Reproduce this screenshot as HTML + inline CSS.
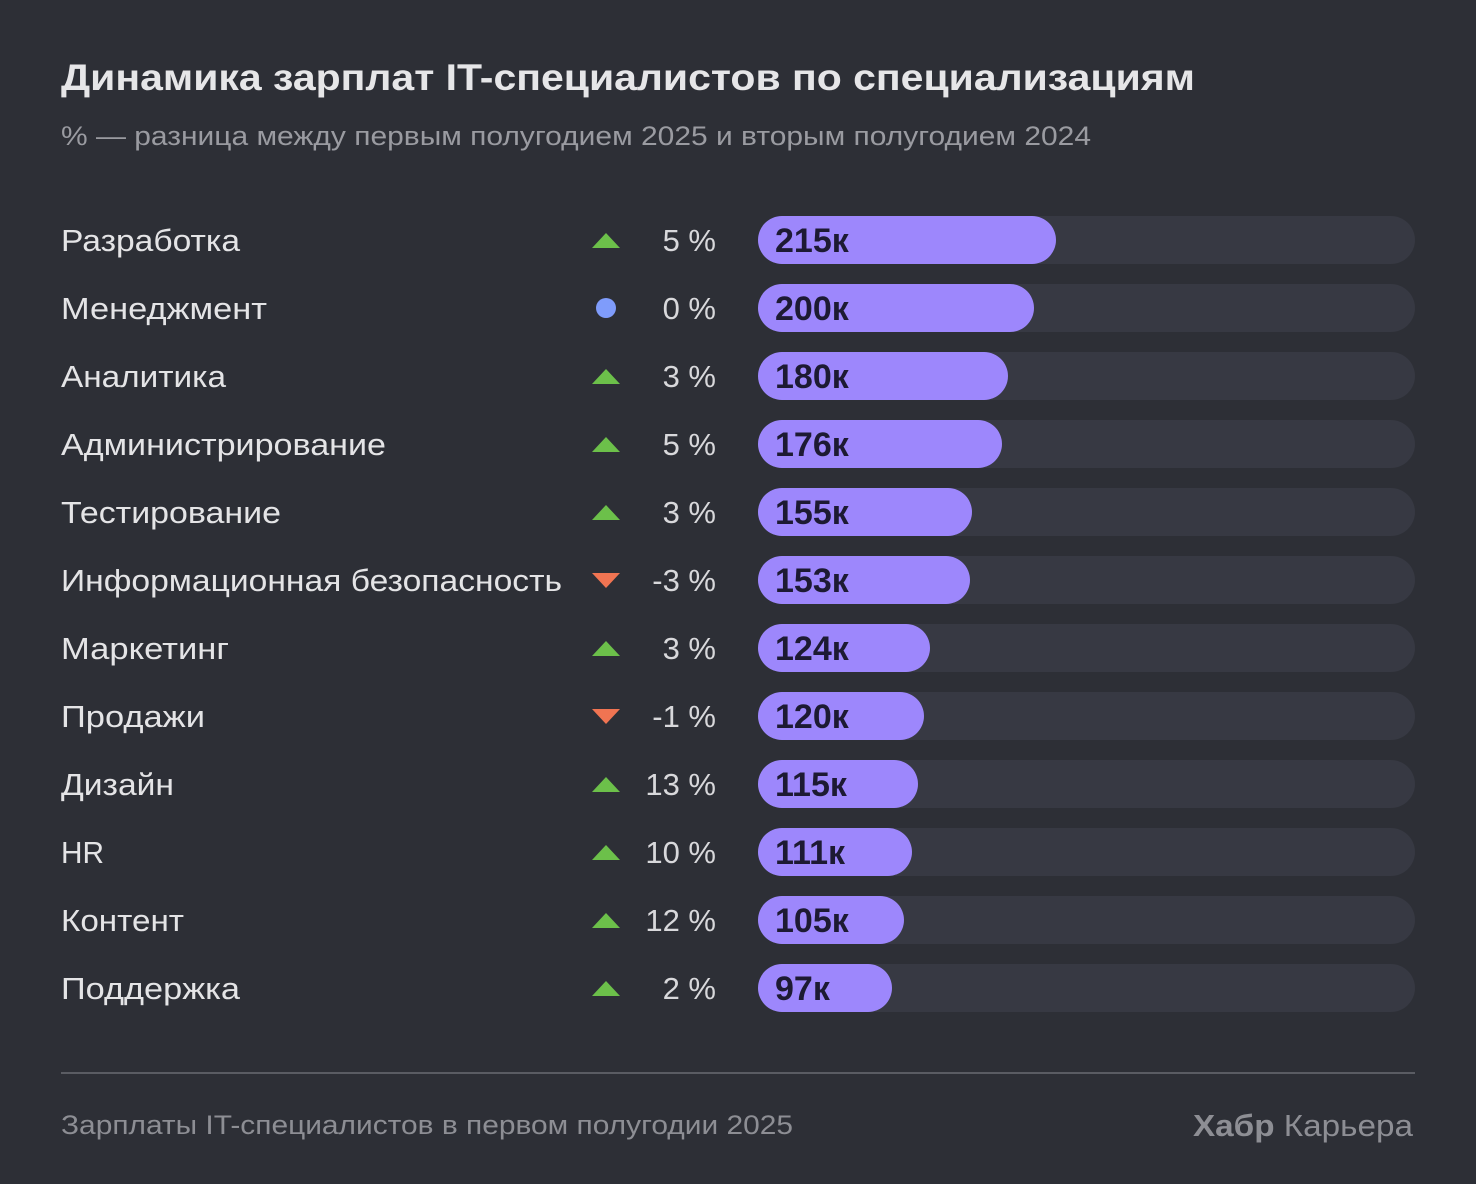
<!DOCTYPE html>
<html><head><meta charset="utf-8"><style>
html,body{margin:0;padding:0;background:#2d2f36;}
svg{display:block}
text{font-family:"Liberation Sans","DejaVu Sans",sans-serif;}
</style></head><body>
<svg width="1476" height="1184" viewBox="0 0 1476 1184" xmlns="http://www.w3.org/2000/svg">
<rect width="1476" height="1184" fill="#2d2f36"/>
<text x="61" y="90" font-size="37" font-weight="bold" fill="#e6e6e8" textLength="1134" lengthAdjust="spacingAndGlyphs">Динамика зарплат IT-специалистов по специализациям</text>
<text x="61" y="145" font-size="27" fill="#9a9ba1" textLength="1030" lengthAdjust="spacingAndGlyphs">% — разница между первым полугодием 2025 и вторым полугодием 2024</text>
<g id="rows"></g>
<line x1="61" y1="1073" x2="1415" y2="1073" stroke="#5a5c63" stroke-width="2"/>
<text x="61" y="1134" font-size="27" fill="#8d8e94" textLength="732" lengthAdjust="spacingAndGlyphs">Зарплаты IT-специалистов в первом полугодии 2025</text>
<text x="1193" y="1136" font-size="31" fill="#8d8e94" textLength="220" lengthAdjust="spacingAndGlyphs"><tspan font-weight="bold">Хабр</tspan> Карьера</text>
</svg>
<script>
var d=[["Разработка",5,215,1056,179],["Менеджмент",0,200,1034,206],["Аналитика",3,180,1008,165],["Администрирование",5,176,1002,325],["Тестирование",3,155,972,220],["Информационная безопасность",-3,153,970,501],["Маркетинг",3,124,930,168],["Продажи",-1,120,924,144],["Дизайн",13,115,918,113],["HR",10,111,912,43],["Контент",12,105,904,123],["Поддержка",2,97,892,179]];
var g=document.getElementById('rows'),s='';
d.forEach(function(r,i){var c=240+68*i;
s+='<text x="61" y="'+(c+11)+'" font-size="31" fill="#e4e4e6" textLength="'+r[4]+'" lengthAdjust="spacingAndGlyphs">'+r[0]+'</text>';
if(r[1]>0)s+='<polygon points="592,'+(c+8)+' 620,'+(c+8)+' 606,'+(c-7)+'" fill="#6cc04a"/>';
else if(r[1]<0)s+='<polygon points="592,'+(c-7)+' 620,'+(c-7)+' 606,'+(c+8)+'" fill="#f07452"/>';
else s+='<circle cx="606" cy="'+c+'" r="10" fill="#7f9cfb"/>';
s+='<text x="716" y="'+(c+11)+'" font-size="31" fill="#d8d8db" text-anchor="end">'+r[1]+' %</text>';
s+='<rect x="758" y="'+(c-24)+'" width="657" height="48" rx="24" fill="#373943"/>';
s+='<rect x="758" y="'+(c-24)+'" width="'+(r[3]-758)+'" height="48" rx="24" fill="#9d87fc"/>';
s+='<text x="775" y="'+(c+12)+'" font-size="34" font-weight="bold" fill="#1d1a33">'+r[2]+'к</text>';});
g.innerHTML=s;
</script>
</body></html>
